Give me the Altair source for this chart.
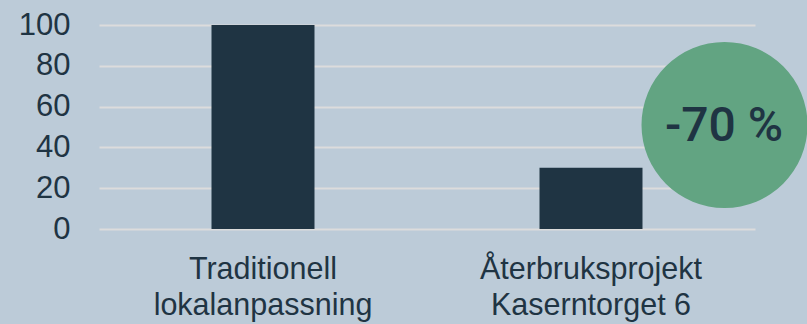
import altair as alt
import pandas as pd

categories = ["Traditionell lokalanpassning", "Återbruksprojekt Kaserntorget 6"]
values = [100, 30]

badge_category = ["Återbruksprojekt Kaserntorget 6"]
badge_value = [51]
badge_text = ["-70 %"]

bars_df = pd.DataFrame({"kategori": categories, "varde": values})
badge_df = pd.DataFrame({"kategori": badge_category, "varde": badge_value, "text": badge_text})

BG = "#bccbd8"
DARK = "#1f3443"
GREEN = "#62a482"
FONT = "Liberation Sans"

x_enc = alt.X(
    "kategori:N",
    sort=categories,
    scale=alt.Scale(paddingInner=0.686, paddingOuter=0.343),
    axis=alt.Axis(
        title=None,
        labelAngle=0,
        labelFontSize=30.5,
        labelFont=FONT,
        labelColor=DARK,
        labelBaseline="top",
        labelPadding=25,
        labelLineHeight=36,
        labelLimit=0,
        ticks=False,
        tickSize=0,
        domain=False,
        grid=False,
        labelExpr="[slice(datum.label, 0, indexof(datum.label, ' ')), slice(datum.label, indexof(datum.label, ' ') + 1)]",
    ),
)

y_enc = alt.Y(
    "varde:Q",
    scale=alt.Scale(domain=[0, 100], nice=False),
    axis=alt.Axis(
        title=None,
        values=[0, 20, 40, 60, 80, 100],
        labelFontSize=31,
        labelFont=FONT,
        labelColor=DARK,
        labelPadding=29,
        ticks=False,
        tickSize=0,
        domain=False,
        grid=True,
        gridColor="#dcdcdc",
        gridWidth=2,
    ),
)

bars = alt.Chart(bars_df).mark_bar(color=DARK).encode(x=x_enc, y=y_enc)

circle = alt.Chart(badge_df).mark_point(
    shape="circle", filled=True, size=27556, color=GREEN, opacity=1, xOffset=133.5
).encode(x=alt.X("kategori:N", sort=categories), y=alt.Y("varde:Q"))

label = alt.Chart(badge_df).mark_text(
    font="Roboto", fontSize=48, fontWeight=500, color=DARK, xOffset=133, yOffset=2,
    align="center", baseline="middle"
).encode(x=alt.X("kategori:N", sort=categories), y=alt.Y("varde:Q"), text="text:N")

chart = (
    alt.layer(bars, circle, label)
    .properties(
        width=656,
        height=204,
        autosize=alt.AutoSizeParams(type="none"),
        padding={"left": 99, "top": 25, "right": 52, "bottom": 95},
        background=BG,
    )
    .configure_view(stroke=None)
)

chart.save("out.html", embed_options={"renderer": "svg", "actions": False})
